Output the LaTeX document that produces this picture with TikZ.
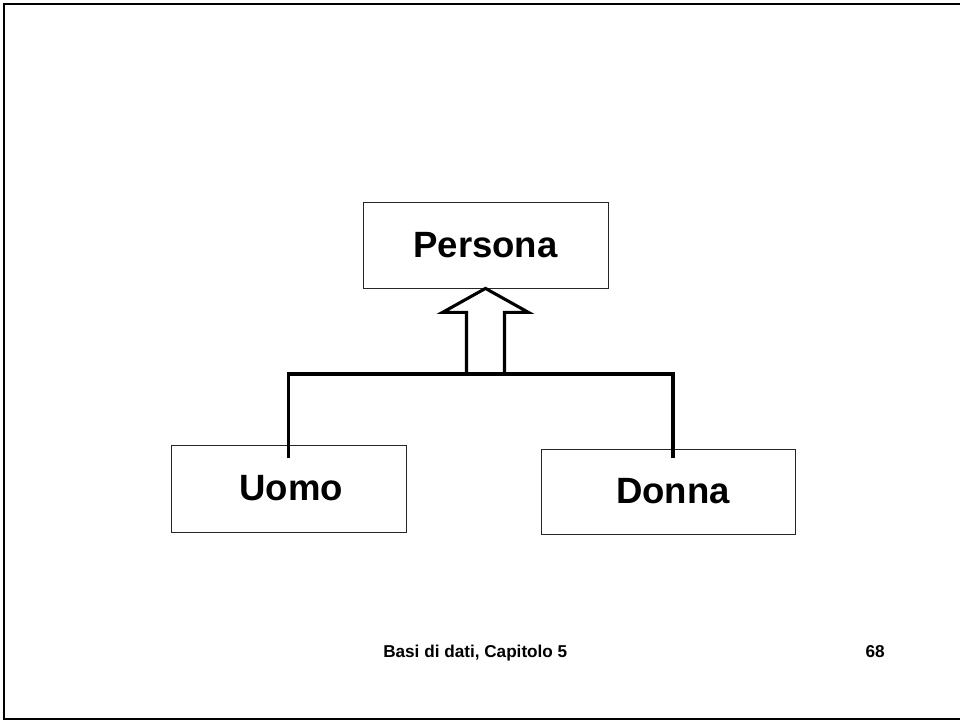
\documentclass[tikz,border=0pt]{standalone}
\usepackage{fontspec}
\setmainfont{Liberation Sans}
\usepackage{tikz}

\begin{document}
\begin{tikzpicture}[x=0.025cm,y=-0.025cm]
\tikzstyle{every node}+=[inner sep=0pt]
\tikzstyle{entity}=[draw=black!85,line width=0.6pt,font=\fontsize{26}{30}\selectfont\bfseries]
\tikzstyle{isa}=[black,line width=2.8pt,line join=miter]
\tikzstyle{hollow}=[black,line width=2.2pt,line join=miter]
\tikzstyle{footnote}=[font=\fontsize{12.2}{14}\selectfont\bfseries,anchor=base]
\useasboundingbox (0,0) rectangle (960,721);
\draw [black,line width=1.8pt] (960,4) -- (4,4) -- (4,719) -- (960,719);
\node [entity,minimum width=245*0.025cm,minimum height=86*0.025cm] (persona) at (485.5,245) {Persona};
\node [entity,minimum width=235*0.025cm,minimum height=87*0.025cm] (uomo) at (288.5,488.5) {\hspace*{4pt}Uomo};
\node [entity,minimum width=254*0.025cm,minimum height=85*0.025cm] (donna) at (668,491.5) {\hspace*{7pt}Donna};
\coordinate (bar) at (288.5,374);
\coordinate (drop) at ([xshift=5*0.025cm,yshift=-9*0.025cm]donna.north);
\draw [isa] ([yshift=-13*0.025cm]uomo.north) -- (bar) -| (drop);
\draw [hollow] (persona.south) -- ++(43,24) -- ++(-24,0) -- ++(0,62) -- ++(-38,0) -- ++(0,-62) -- ++(-24,0) -- cycle;
\node [footnote,anchor=base west] (footer) at (383,657) {Basi di dati, Capitolo 5};
\node [footnote,anchor=base east] (page) at (885,657) {68};
\end{tikzpicture}
\end{document}
